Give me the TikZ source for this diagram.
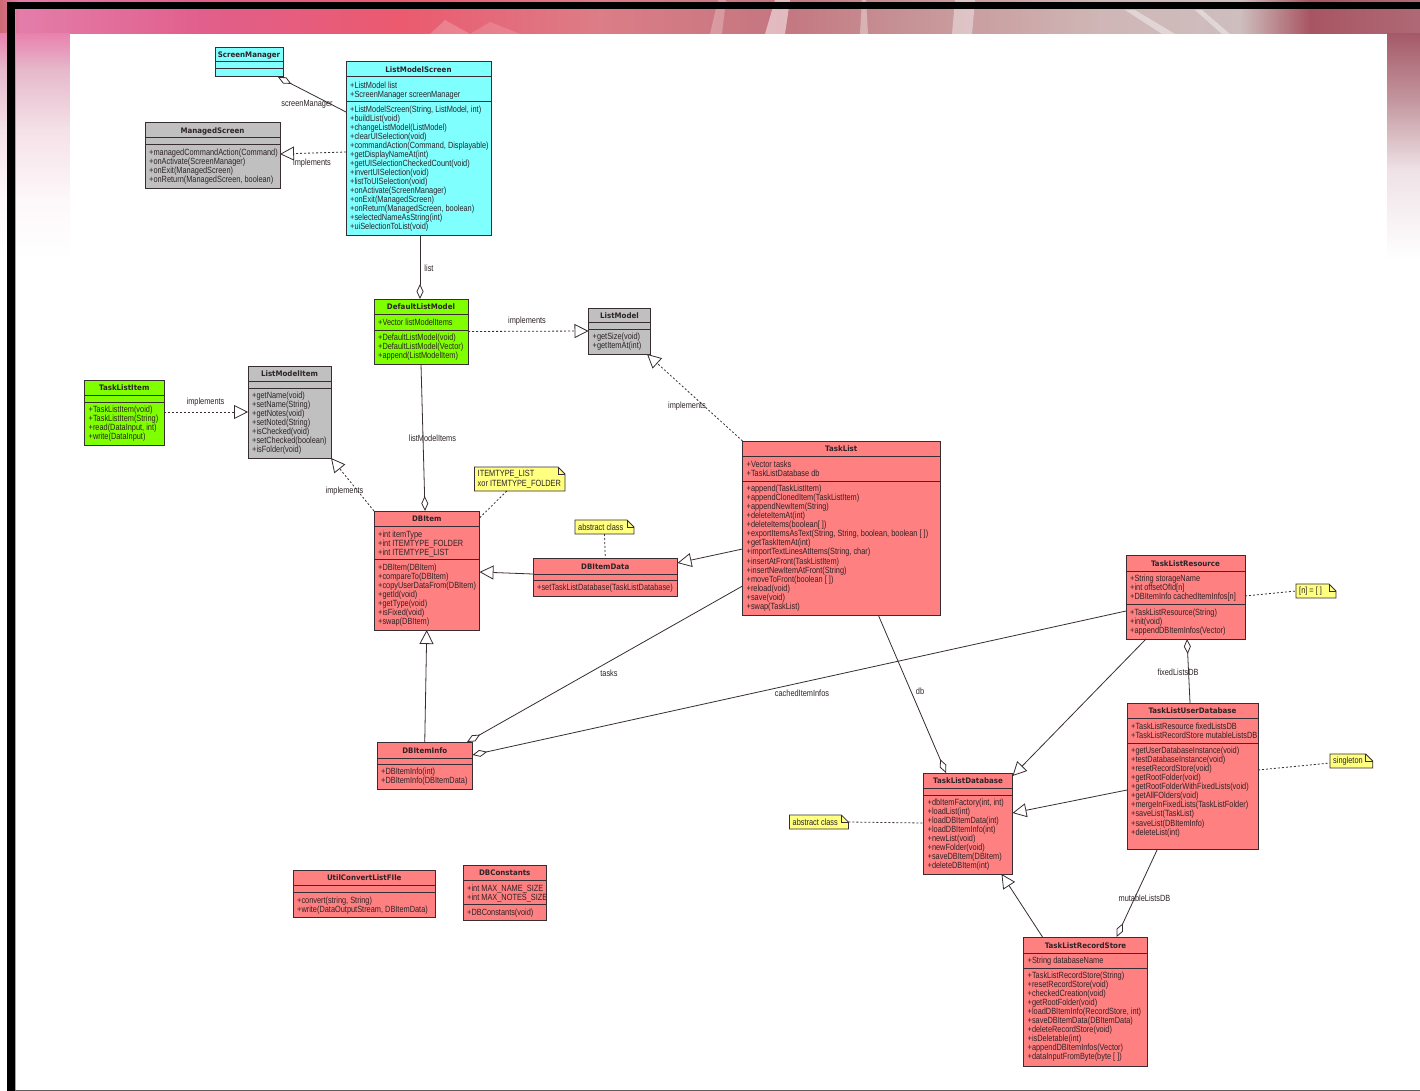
\documentclass[tikz,border=0pt]{standalone}
\usepackage{fontspec}
\setmainfont[FakeStretch=0.82]{Liberation Sans}
\newfontfamily\titlefont[FakeStretch=0.93]{DejaVu Sans}
\usetikzlibrary{arrows.meta}
\definecolor{ucyan}{RGB}{128,255,255}
\definecolor{ugreen}{RGB}{128,255,0}
\definecolor{ugray}{RGB}{192,192,192}
\definecolor{ured}{RGB}{255,128,128}
\definecolor{uyellow}{RGB}{255,255,128}
\definecolor{uline}{RGB}{55,45,50}
\definecolor{utext}{RGB}{45,35,40}
\tikzset{
 umlbox/.style={draw=uline,line width=1pt,inner sep=0pt,outer sep=0pt},
 umltitle/.style={font=\titlefont\bfseries\fontsize{7.6}{9}\selectfont,text=utext,inner sep=0pt,anchor=base},
 umltext/.style={font=\fontsize{9}{9}\selectfont,text=utext,anchor=base west,inner sep=0pt},
 lbl/.style={font=\fontsize{9}{9}\selectfont,text=utext,inner sep=0pt},
 sepline/.style={draw=uline,line width=1pt},
 assoc/.style={draw=uline,line width=.8pt},
 dashline/.style={draw=uline,line width=.8pt,dash pattern=on 2pt off 2pt},
 opentri/.style={-{Triangle[open,fill=white,length=14pt,width=14pt]}},
 opendia/.style={-{Diamond[open,fill=white,length=15pt,width=7pt]}},
}
\newcommand{\umlclass}[9]{%
 \pgfmathsetmacro{\umlw}{#4-#2}\pgfmathsetmacro{\umlh}{#5-#3}%
 \pgfmathsetmacro{\umlx}{(#2+#4)/2}\pgfmathsetmacro{\umly}{(#3+#5)/2}%
 \pgfmathsetmacro{\umlt}{(#3+#8)/2+3}%
 \node[umlbox,fill=#6,minimum width=\umlw pt,minimum height=\umlh pt] (#1) at (\umlx,\umly) {};
 \node[umltitle] (#1-title) at (\umlx,\umlt) {#7};
 \draw[sepline] (#2,#8) -- (#4,#8);
 \draw[sepline] (#2,#9) -- (#4,#9);
}
\newcommand{\umllines}[4]{%
 \foreach \umlitem [count=\umlidx from 0] in {#4} {%
  \pgfmathsetmacro{\umlyy}{#3+9.04*\umlidx+3.2}%
  \node[umltext] (#1-\umlidx) at (#2,\umlyy) {\umlitem};
 }%
}
\newcommand{\umlnote}[6]{%
 \pgfmathsetmacro{\umlw}{#4-#2}\pgfmathsetmacro{\umlh}{#5-#3}%
 \pgfmathsetmacro{\umlx}{(#2+#4)/2}\pgfmathsetmacro{\umly}{(#3+#5)/2}%
 \pgfmathsetmacro{\umlf}{#4-7}\pgfmathsetmacro{\umlg}{#3+7}\pgfmathsetmacro{\umltx}{#2+3}%
 \draw[draw=uline,line width=.8pt,fill=uyellow] (#2,#3) -- (\umlf,#3) -- (#4,\umlg) -- (#4,#5) -- (#2,#5) -- cycle;
 \draw[draw=uline,line width=.8pt] (\umlf,#3) -- (\umlf,\umlg) -- (#4,\umlg);
 \node[inner sep=0pt,outer sep=0pt,minimum width=\umlw pt,minimum height=\umlh pt] (#1) at (\umlx,\umly) {};
 \node[lbl,anchor=west,align=left,font=\fontsize{9}{10.3}\selectfont] (#1-text) at (\umltx,\umly) {#6};
}
\newcommand{\hband}[4]{\shade[left color=#3,right color=#4] (#1,0) rectangle (#2,34);}
\newcommand{\vband}[6]{\shade[top color=#5,bottom color=#6] (#1,#3) rectangle (#2,#4);}
\begin{document}
\begin{tikzpicture}[x=1pt,y=-1pt]
\useasboundingbox (0,0) rectangle (1420,1091);
\fill[white] (0,0) rectangle (1420,1091);
% background
\definecolor{ba}{RGB}{205,105,115}
\definecolor{bb}{RGB}{228,125,170}
\definecolor{bc}{RGB}{225,95,140}
\definecolor{bd}{RGB}{235,90,110}
\definecolor{be}{RGB}{220,125,135}
\definecolor{bf}{RGB}{196,118,128}
\definecolor{bg}{RGB}{198,145,148}
\definecolor{bh}{RGB}{208,182,182}
\definecolor{bi}{RGB}{206,190,190}
\definecolor{bj}{RGB}{168,85,98}
\definecolor{bk}{RGB}{175,105,118}
\hband{0}{20}{ba}{bb}
\hband{20}{200}{bb}{bc}
\hband{200}{400}{bc}{bd}
\hband{400}{600}{bd}{be}
\hband{600}{780}{be}{bf}
\hband{780}{900}{bf}{bg}
\hband{900}{1100}{bg}{bh}
\hband{1100}{1240}{bh}{bi}
\hband{1240}{1310}{bi}{bj}
\hband{1310}{1420}{bj}{bk}
% streaks of the backdrop
\fill[white,opacity=.2] (430,34) -- (445,20) -- (470,34) -- cycle;
\fill[white,opacity=.15] (470,34) -- (490,22) -- (520,34) -- cycle;
\fill[white,opacity=.25] (710,34) -- (718,0) -- (726,0) -- (722,34) -- cycle;
\fill[white,opacity=.5] (765,34) -- (775,0) -- (790,0) -- (785,34) -- cycle;
\fill[white,opacity=.35] (860,34) -- (862,0) -- (866,0) -- (868,34) -- cycle;
\fill[white,opacity=.4] (952,34) -- (955,0) -- (975,0) -- (972,34) -- cycle;
\fill[white,opacity=.4] (1125,10) -- (1135,10) -- (1175,34) -- (1162,34) -- cycle;
\fill[white,opacity=.4] (1195,10) -- (1202,10) -- (1230,34) -- (1222,34) -- cycle;
\definecolor{la}{RGB}{232,130,175}
\definecolor{lb}{RGB}{230,185,203}
\definecolor{lc}{RGB}{245,225,232}
\definecolor{ld}{RGB}{253,248,250}
\vband{0}{70}{34}{70}{la}{lb}
\vband{0}{70}{70}{130}{lb}{lc}
\vband{0}{70}{130}{200}{lc}{ld}
\vband{0}{70}{200}{260}{ld}{white}
\definecolor{ra}{RGB}{165,90,105}
\definecolor{rb}{RGB}{195,150,158}
\definecolor{rc}{RGB}{238,226,230}
\vband{1387}{1420}{34}{100}{ra}{rb}
\vband{1387}{1420}{100}{170}{rb}{rc}
\vband{1387}{1420}{170}{260}{rc}{white}
\fill[white] (70,34) rectangle (1387,1091);
\fill[black] (6.5,2) rectangle (1420,9.5);
\fill[black] (6.5,2) rectangle (14.5,1091);
\fill[gray!75!black] (14.5,1089.5) rectangle (1420,1091);
\fill[gray!70] (14.5,9.5) rectangle (15,1090);
% classes
\umlclass{sm}{215}{48}{283}{77}{ucyan}{ScreenManager}{62}{69}
\umlclass{lms}{346}{62}{491}{236}{ucyan}{ListModelScreen}{77}{102}
\umllines{lmsa}{350}{85}{+ListModel list,+ScreenManager screenManager}
\umllines{lmso}{350}{109}{{+ListModelScreen(String, ListModel, int)},+buildList(void),+changeListModel(ListModel),+clearUISelection(void),{+commandAction(Command, Displayable)},+getDisplayNameAt(int),+getUISelectionCheckedCount(void),+invertUISelection(void),+listToUISelection(void),+onActivate(ScreenManager),+onExit(ManagedScreen),{+onReturn(ManagedScreen, boolean)},+selectedNameAsString(int),+uiSelectionToList(void)}
\umlclass{ms}{145}{123}{280}{189}{ugray}{ManagedScreen}{138}{145}
\umllines{mso}{149}{152.5}{+managedCommandAction(Command),+onActivate(ScreenManager),+onExit(ManagedScreen),{+onReturn(ManagedScreen, boolean)}}
\umlclass{dlm}{374}{299}{468}{364}{ugreen}{DefaultListModel}{314}{330}
\umllines{dlma}{378}{322}{+Vector listModelItems}
\umllines{dlmo}{378}{337}{+DefaultListModel(void),+DefaultListModel(Vector),+append(ListModelItem)}
\umlclass{lm}{588.5}{308}{650.5}{354}{ugray}{ListModel}{322}{329}
\umllines{lmo}{592.5}{336.5}{+getSize(void),+getItemAt(int)}
\umlclass{lmi}{248}{366}{331}{458}{ugray}{ListModelItem}{381}{388}
\umllines{lmio}{252}{395}{+getName(void),+setName(String),+getNotes(void),+setNoted(String),+isChecked(void),+setChecked(boolean),+isFolder(void)}
\umlclass{tli}{84.5}{380}{164}{445}{ugreen}{TaskListItem}{395}{402}
\umllines{tlio}{88.5}{409}{+TaskListItem(void),+TaskListItem(String),{+read(DataInput, int)},+write(DataInput)}
\umlclass{dbi}{374}{511}{479.5}{630}{ured}{DBItem}{526}{559}
\umllines{dbia}{378}{534}{+int itemType,+int ITEMTYPE\_FOLDER,+int ITEMTYPE\_LIST}
\umllines{dbio}{378}{567}{+DBItem(DBItem),+compareTo(DBItem),+copyUserDataFrom(DBItem),+getId(void),+getType(void),+isFixed(void),+swap(DBItem)}
\umlclass{dbd}{533}{558}{677.5}{596}{ured}{DBItemData}{574}{580.5}
\umllines{dbdo}{537}{587}{+setTaskListDatabase(TaskListDatabase)}
\umlclass{tl}{742.5}{441}{940}{615}{ured}{TaskList}{456}{481}
\umllines{tla}{746.5}{464}{+Vector tasks,+TaskListDatabase db}
\umllines{tlo}{746.5}{488.5}{+append(TaskListItem),+appendClonedItem(TaskListItem),+appendNewItem(String),+deleteItemAt(int),+deleteItems(boolean[ ]),{+exportItemsAsText(String, String, boolean, boolean [ ])},+getTaskItemAt(int),{+importTextLinesAtItems(String, char)},+insertAtFront(TaskListItem),+insertNewItemAtFront(String),+moveToFront(boolean [ ]),+reload(void),+save(void),+swap(TaskList)}
\umlclass{tlr}{1126}{555}{1245}{639}{ured}{TaskListResource}{571}{604}
\umllines{tlra}{1130}{578}{+String storageName,+int offsetOfId[n],+DBItemInfo cachedItemInfos[n]}
\umllines{tlro}{1130}{612}{+TaskListResource(String),+init(void),+appendDBItemInfos(Vector)}
\umlclass{tlud}{1127}{703}{1258}{849}{ured}{TaskListUserDatabase}{718}{743}
\umllines{tluda}{1131}{726}{+TaskListResource fixedListsDB,+TaskListRecordStore mutableListsDB}
\umllines{tludo}{1131}{750.5}{+getUserDatabaseInstance(void),+testDatabaseInstance(void),+resetRecordStore(void),+getRootFolder(void),+getRootFolderWithFixedLists(void),+getAllFOlders(void),+mergeInFixedLists(TaskListFolder),+saveList(TaskList),+saveList(DBItemInfo),+deleteList(int)}
\umlclass{tldb}{923.5}{773}{1012.5}{874}{ured}{TaskListDatabase}{788}{795}
\umllines{tldbo}{927.5}{802}{{+dbItemFactory(int, int)},+loadList(int),+loadDBItemData(int),+loadDBItemInfo(int),+newList(void),+newFolder(void),+saveDBItem(DBItem),+deleteDBItem(int)}
\umlclass{tlrs}{1023.5}{937}{1147.5}{1066}{ured}{TaskListRecordStore}{953}{968}
\umllines{tlrsa}{1027.5}{960}{+String databaseName}
\umllines{tlrso}{1027.5}{975}{+TaskListRecordStore(String),+resetRecordStore(void),+checkedCreation(void),+getRootFolder(void),{+loadDBItemInfo(RecordStore, int)},+saveDBItemData(DBItemData),+deleteRecordStore(void),+isDeletable(int),+appendDBItemInfos(Vector),+dataInputFromByte(byte [ ])}
\umlclass{dbii}{377}{742}{472.5}{789}{ured}{DBItemInfo}{758}{764}
\umllines{dbiio}{381}{771}{+DBItemInfo(int),+DBItemInfo(DBItemData)}
\umlclass{ucf}{293}{870}{435.5}{917}{ured}{UtilConvertListFIle}{885}{892}
\umllines{ucfo}{297}{900}{{+convert(string, String)},{+write(DataOutputStream, DBItemData)}}
\umlclass{dbc}{463}{865}{546.5}{920}{ured}{DBConstants}{880}{904}
\umllines{dbca}{467}{888}{+int MAX\_NAME\_SIZE,+int MAX\_NOTES\_SIZE}
\umllines{dbco}{467}{912}{+DBConstants(void)}
% notes
\umlnote{nitem}{474.5}{467}{565}{491}{ITEMTYPE\_LIST\\xor ITEMTYPE\_FOLDER}
\umlnote{nabs}{575}{520}{634}{534}{abstract class}
\umlnote{nn}{1296}{584}{1336}{598}{[n] = [ ]}
\umlnote{nsing}{1330}{754}{1372.7}{768}{singleton}
\umlnote{nabsb}{789.5}{815}{848.4}{829}{abstract class}
% connectors
\draw[assoc,opendia] ([yshift=-50pt]lms.north west) -- ([xshift=-5pt]sm.south east);
\draw[dashline,opentri] ([yshift=-90pt]lms.north west) -- ([yshift=-31pt]ms.north east);
\draw[assoc,opendia] ([xshift=1.5pt]lms.south) -- ([xshift=-1pt]dlm.north);
\draw[dashline,opentri] ([yshift=-32.5pt]dlm.north east) -- ([yshift=-23pt]lm.north west);
\draw[assoc,opendia] (dlm.south) -- ([xshift=-1.75pt]dbi.north);
\draw[dashline,opentri] ([yshift=-32pt]tli.north east) -- ([yshift=-46pt]lmi.north west);
\draw[dashline,opentri] (dbi.north west) -- (lmi.south east);
\draw[dashline] ([xshift=-13pt]nitem.south) -- ([yshift=-7pt]dbi.north east);
\draw[dashline] (nabs.south) -- (dbd.north);
\draw[assoc,opentri] ([yshift=-16pt]dbd.north west) -- ([yshift=-61pt]dbi.north east);
\draw[assoc,opentri] ([yshift=-108pt]tl.north west) -- ([yshift=-5pt]dbd.north east);
\draw[dashline,opentri] (tl.north west) -- ([xshift=-3.5pt]lm.south east);
\draw[assoc,opendia] ([yshift=-145pt]tl.north west) -- ([xshift=-5.5pt]dbii.north east);
\draw[assoc,opentri] (dbii.north) -- (dbi.south);
\draw[assoc,opendia] ([yshift=-56pt]tlr.north west) -- ([yshift=-13pt]dbii.north east);
\draw[assoc,opendia] ([xshift=37pt]tl.south) -- ([xshift=-22pt]tldb.north);
\draw[assoc,opentri] ([xshift=20pt]tlr.south west) -- ([yshift=-3pt]tldb.north east);
\draw[assoc,opendia] ([xshift=-2.5pt]tlud.north) -- ([xshift=1.5pt]tlr.south);
\draw[assoc,opentri] ([yshift=-87pt]tlud.north west) -- ([yshift=-40pt]tldb.north east);
\draw[assoc,opentri] ([xshift=19pt]tlrs.north west) -- ([xshift=-11pt]tldb.south east);
\draw[assoc,opendia] ([xshift=30.5pt]tlud.south west) -- ([xshift=-31pt]tlrs.north east);
\draw[dashline] ([yshift=-41pt]tlr.north east) -- (nn.west);
\draw[dashline] ([yshift=-67pt]tlud.north east) -- ([yshift=-2pt]nsing.west);
\draw[dashline] (nabsb.east) -- ([yshift=-50pt]tldb.north west);
% labels
\node[lbl] (l1) at (307,104) {screenManager};
\node[lbl] (l2) at (312,163) {implements};
\node[lbl] (l3) at (429,268) {list};
\node[lbl] (l4) at (527,321) {implements};
\node[lbl] (l5) at (432.5,438) {listModelItems};
\node[lbl] (l6) at (205.5,402) {implements};
\node[lbl] (l7) at (344.5,491) {implements};
\node[lbl] (l8) at (687,406) {implements};
\node[lbl] (l9) at (609,673) {tasks};
\node[lbl] (l10) at (802,693) {cachedItemInfos};
\node[lbl] (l11) at (920,691) {db};
\node[lbl] (l12) at (1178,672) {fixedListsDB};
\node[lbl] (l13) at (1144.5,898) {mutableListsDB};
\end{tikzpicture}
\end{document}
